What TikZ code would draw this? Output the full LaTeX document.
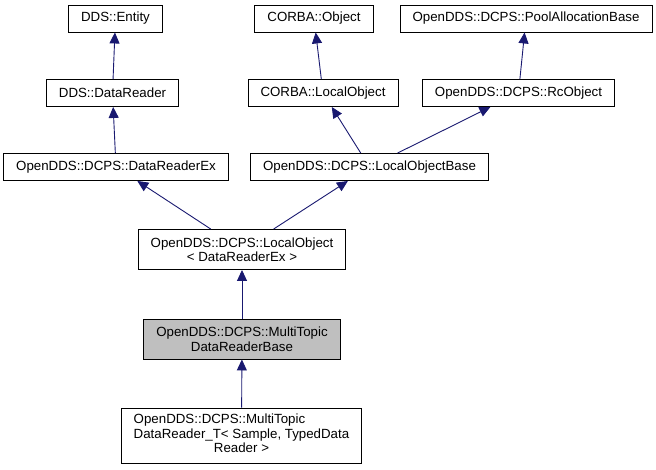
\documentclass[tikz,border=0pt]{standalone}
\usepackage{fontspec}
\setmainfont{Liberation Sans}
\usepackage{xcolor}
\usepackage{tikz}
\usetikzlibrary{arrows.meta}

\definecolor{edgeblue}{RGB}{25,25,112}
\definecolor{curgray}{RGB}{191,191,191}

\begin{document}
\begin{tikzpicture}[x=1pt, y=-1pt,
    font=\fontsize{13.3}{14.5}\selectfont,
    classbox/.style={draw=black, line width=0.9pt, fill=white, inner xsep=12.5pt,
        inner ysep=2pt, minimum height=27pt},
    inherit/.style={draw=edgeblue, line width=0.9pt,
        {Triangle[length=11pt,width=10pt]}-}]
    \useasboundingbox (0,0) rectangle (656,469);

    % top row
    \node[classbox] (entity) at (115.5, 18.5) {DDS::Entity};
    \node[classbox] (corbaobj) at (314, 18.5) {CORBA::Object};
    \node[classbox] (poolbase) at (526, 18.5) {OpenDDS::DCPS::PoolAllocationBase};

    % second row
    \node[classbox] (datareader) at (112.5, 93) {DDS::DataReader};
    \node[classbox] (corbalocal) at (323, 93) {CORBA::LocalObject};
    \node[classbox] (rcobject) at (518.5, 93) {OpenDDS::DCPS::RcObject};

    % third row
    \node[classbox] (readerex) at (116, 167) {OpenDDS::DCPS::DataReaderEx};
    \node[classbox] (localbase) at (369.5, 167) {OpenDDS::DCPS::LocalObjectBase};

    % templates and the class itself
    \node[classbox, align=center, minimum height=40pt] (localobj) at (242, 249.5)
        {OpenDDS::DCPS::LocalObject\\< DataReaderEx >};
    \node[classbox, align=center, minimum height=40pt, fill=curgray] (mtbase) at (242, 339)
        {OpenDDS::DCPS::MultiTopic\\DataReaderBase};
    \node[classbox, minimum height=55pt] (mtreader) at (241.5, 435.5)
        {\begin{tabular}{@{}l@{}}OpenDDS::DCPS::MultiTopic\\DataReader\_T< Sample, TypedData\\
         \multicolumn{1}{@{}c@{}}{Reader >}\end{tabular}};

    \draw[inherit] (entity) -- (datareader); % Entity-DataReader
    \draw[inherit] (datareader) -- (readerex); % DataReader-DataReaderEx
    \draw[inherit] (corbaobj) -- (corbalocal); % Object-LocalObject
    \draw[inherit] (poolbase) -- (rcobject); % PoolAllocationBase-RcObject
    \draw[inherit] (corbalocal) -- (localbase); % LocalObject-LocalObjectBase
    \draw[inherit] (rcobject) -- (localbase); % RcObject-LocalObjectBase
    \draw[inherit] (readerex) -- (localobj); % DataReaderEx-LocalObject
    \draw[inherit] (localbase) -- (localobj); % LocalObjectBase-LocalObject
    \draw[inherit] (localobj) -- (mtbase); % LocalObject-MultiTopicDataReaderBase
    \draw[inherit] (mtbase) -- (mtreader); % Base-DataReader_T
\end{tikzpicture}
\end{document}
